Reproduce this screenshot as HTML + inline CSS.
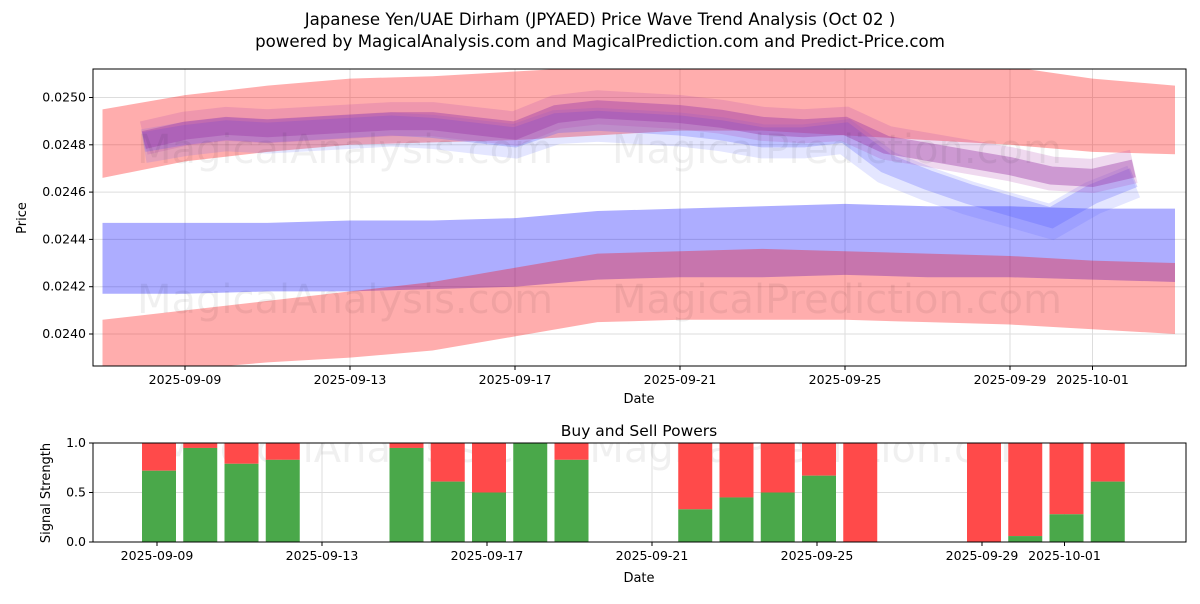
<!DOCTYPE html>
<html><head><meta charset="utf-8"><style>
body{margin:0;background:#fff;font-family:"DejaVu Sans","Liberation Sans",sans-serif}
svg text{font-family:"DejaVu Sans","Liberation Sans",sans-serif}
</style></head><body>
<svg id="c" width="1200" height="600" viewBox="0 0 1200 600">
<text x="600" y="25" text-anchor="middle" font-size="16.6">Japanese Yen/UAE Dirham (JPYAED) Price Wave Trend Analysis (Oct 02 )</text>
<text x="600" y="47" text-anchor="middle" font-size="16.6">powered by MagicalAnalysis.com and MagicalPrediction.com and Predict-Price.com</text>
<defs><clipPath id="cp1"><rect x="93" y="69" width="1093" height="297"/></clipPath><clipPath id="cp2"><rect x="93" y="443" width="1093" height="99"/></clipPath></defs>
<g id="main" clip-path="url(#cp1)"></g>
<g id="lower" clip-path="url(#cp2)"></g>
<g id="axes"></g>
</svg>
<script>
// main chart data (day offset from 2025-09-07)
const bandDays=[0,2,4,6,8,10,12,14,16,18,20,22,24,26];
const redUpTop=[0.02495,0.02501,0.02505,0.02508,0.02509,0.02511,0.02513,0.02513,0.02513,0.02513,0.02513,0.02513,0.02508,0.02505];
const redUpBot=[0.02466,0.02473,0.02477,0.02480,0.02481,0.02482,0.02484,0.02486,0.02486,0.02484,0.02482,0.02480,0.02477,0.02476];
const blueTop=[0.02447,0.02447,0.02447,0.02448,0.02448,0.02449,0.02452,0.02453,0.02454,0.02455,0.02454,0.02454,0.02453,0.02453];
const blueBot=[0.02417,0.02417,0.02418,0.02418,0.02419,0.02420,0.02423,0.02424,0.02424,0.02425,0.02424,0.02424,0.02423,0.02422];
const redLoTop=[0.02406,0.02410,0.02414,0.02418,0.02422,0.02428,0.02434,0.02435,0.02436,0.02435,0.02434,0.02433,0.02431,0.02430];
const redLoBot=[0.02380,0.02385,0.02388,0.02390,0.02393,0.02399,0.02405,0.02406,0.02406,0.02406,0.02405,0.02404,0.02402,0.02400];
const waveDays=[1,2,3,4,5,6,7,8,9,10,11,12,13,14,15,16,17,18,19,20,21,22,23,24,25];
const wavePurple=[0.02482,0.02486,0.02488,0.02487,0.02488,0.02489,0.02490,0.02490,0.02488,0.02486,0.02493,0.02495,0.02494,0.02493,0.02491,0.02488,0.02487,0.02488,0.02480,0.02477,0.02474,0.02471,0.02467,0.02466,0.02470];
const waveBlue=[0.02482,0.02485,0.02487,0.02486,0.02487,0.02488,0.02489,0.02488,0.02486,0.02484,0.02490,0.02491,0.02490,0.02489,0.02487,0.02484,0.02484,0.02486,0.02473,0.02466,0.02460,0.02455,0.02450,0.02460,0.02467];
const mainTickVals=[0.0240,0.0242,0.0244,0.0246,0.0248,0.0250];
const mainTickLabels=["0.0240","0.0242","0.0244","0.0246","0.0248","0.0250"];
const xTickDays=[2,6,10,14,18,22,24];
const xTickLabels=["2025-09-09","2025-09-13","2025-09-17","2025-09-21","2025-09-25","2025-09-29","2025-10-01"];
// lower chart data
const barDays=[2,3,4,5,8,9,10,11,12,15,16,17,18,19,22,23,24,25];
const buyVals=[0.72,0.95,0.79,0.83,0.95,0.61,0.5,1.0,0.83,0.33,0.45,0.5,0.67,0.0,0.0,0.06,0.28,0.61];
const lowTickVals=[0,0.5,1];
const lowTickLabels=["0.0","0.5","1.0"];

const NS="http://www.w3.org/2000/svg";
function mk(p,t,a){const e=document.createElementNS(NS,t);for(const k in a)e.setAttribute(k,a[k]);p.appendChild(e);return e;}
const X=d=>185+(d-2)*41.25;
const Y=v=>334-(v-0.0240)/0.001*236.5;
const XL=d=>157+(d-2)*41.25;
const YL=v=>542-v*99;
const main=document.getElementById('main'),lower=document.getElementById('lower'),axes=document.getElementById('axes');
mainTickVals.forEach(v=>{const l=mk(main,'line',{x1:93,x2:1186,y1:Y(v),y2:Y(v),stroke:'#ddd','stroke-width':1});

});
xTickDays.forEach(d=>{const l=mk(main,'line',{x1:X(d),x2:X(d),y1:69,y2:366,stroke:'#ddd','stroke-width':1});

});
function band(top,bot,fill,name){
 let p=bandDays.map((d,i)=>X(d)+','+Y(top[i])).join(' ')+' '+bandDays.map((d,i)=>X(d)+','+Y(bot[i])).reverse().join(' ');
 const e=mk(main,'polygon',{points:p,fill:fill,'fill-opacity':0.32});
 
 
}
band(redUpTop,redUpBot,'#ff0000','upper-red-band');
band(blueTop,blueBot,'#0000ff','blue-band');
band(redLoTop,redLoBot,'#ff0000','lower-red-band');
function wave(vals,col,w,op,name,off){
 const p=waveDays.map((d,i)=>X(d)+','+(Y(vals[i])+off)).join(' ');
 const e=mk(main,'polyline',{points:p,fill:'none',stroke:col,'stroke-width':w,'stroke-opacity':op,'stroke-linejoin':'miter','stroke-linecap':'butt'});
 
 
}
wave(waveBlue,'#4a55ff',34,0.15,'blue-wave-outer',6);
wave(waveBlue,'#4a55ff',20,0.25,'blue-wave',2);
wave(wavePurple,'#b040b0',34,0.2,'purple-wave-outer',-2);
wave(wavePurple,'#9a3aa8',18,0.4,'purple-wave',0);
[[345,150],[837,150],[345,300],[837,300]].forEach(([x,y],i)=>{const t=mk(main,'text',{x:x,y:y+13,'text-anchor':'middle','font-size':40,fill:'#000','fill-opacity':0.06});t.textContent=i%2?'MagicalPrediction.com':'MagicalAnalysis.com';

});
const f1=mk(axes,'rect',{x:93,y:69,width:1093,height:297,fill:'none',stroke:'#000','stroke-width':1});


mainTickVals.forEach((v,i)=>{mk(axes,'line',{x1:89,x2:93,y1:Y(v),y2:Y(v),stroke:'#000'});const t=mk(axes,'text',{x:86,y:Y(v)+4,'text-anchor':'end','font-size':12.5});t.textContent=mainTickLabels[i];

});
xTickDays.forEach((d,i)=>{mk(axes,'line',{x1:X(d),x2:X(d),y1:366,y2:370,stroke:'#000'});const t=mk(axes,'text',{x:X(d),y:384,'text-anchor':'middle','font-size':12.5});t.textContent=xTickLabels[i];

});
let t=mk(axes,'text',{x:639,y:403,'text-anchor':'middle','font-size':13});t.textContent='Date';


t=mk(axes,'text',{x:26,y:218,'text-anchor':'middle','font-size':13,transform:'rotate(-90 26 218)'});t.textContent='Price';


lowTickVals.forEach(v=>{const l=mk(lower,'line',{x1:93,x2:1186,y1:YL(v),y2:YL(v),stroke:'#ddd'});

});
xTickDays.forEach(d=>{const l=mk(lower,'line',{x1:XL(d),x2:XL(d),y1:443,y2:542,stroke:'#ddd'});

});
const wm=mk(lower,'text',{x:600,y:462,'text-anchor':'middle','font-size':40,fill:'#000','fill-opacity':0.06});wm.textContent='MagicalAnalysis.com    MagicalPrediction.com';


barDays.forEach((d,i)=>{const cx=XL(d)+2,w=34,b=buyVals[i];
 const r=mk(lower,'rect',{x:cx-w/2,y:YL(1),width:w,height:YL(b)-YL(1),fill:'#ff4a4a'});
 
 
 const g=mk(lower,'rect',{x:cx-w/2,y:YL(b),width:w,height:YL(0)-YL(b),fill:'#4aa84a'});
 
 
});
const f2=mk(axes,'rect',{x:93,y:443,width:1093,height:99,fill:'none',stroke:'#000'});


lowTickVals.forEach((v,i)=>{mk(axes,'line',{x1:89,x2:93,y1:YL(v),y2:YL(v),stroke:'#000'});const t=mk(axes,'text',{x:86,y:YL(v)+4,'text-anchor':'end','font-size':12.5});t.textContent=lowTickLabels[i];

});
xTickDays.forEach((d,i)=>{mk(axes,'line',{x1:XL(d),x2:XL(d),y1:542,y2:546,stroke:'#000'});const t=mk(axes,'text',{x:XL(d),y:560,'text-anchor':'middle','font-size':12.5});t.textContent=xTickLabels[i];

});
t=mk(axes,'text',{x:639,y:436,'text-anchor':'middle','font-size':15.5});t.textContent='Buy and Sell Powers';


t=mk(axes,'text',{x:639,y:582,'text-anchor':'middle','font-size':13});t.textContent='Date';


t=mk(axes,'text',{x:50,y:493,'text-anchor':'middle','font-size':13,transform:'rotate(-90 50 493)'});t.textContent='Signal Strength';


</script>
</body></html>
